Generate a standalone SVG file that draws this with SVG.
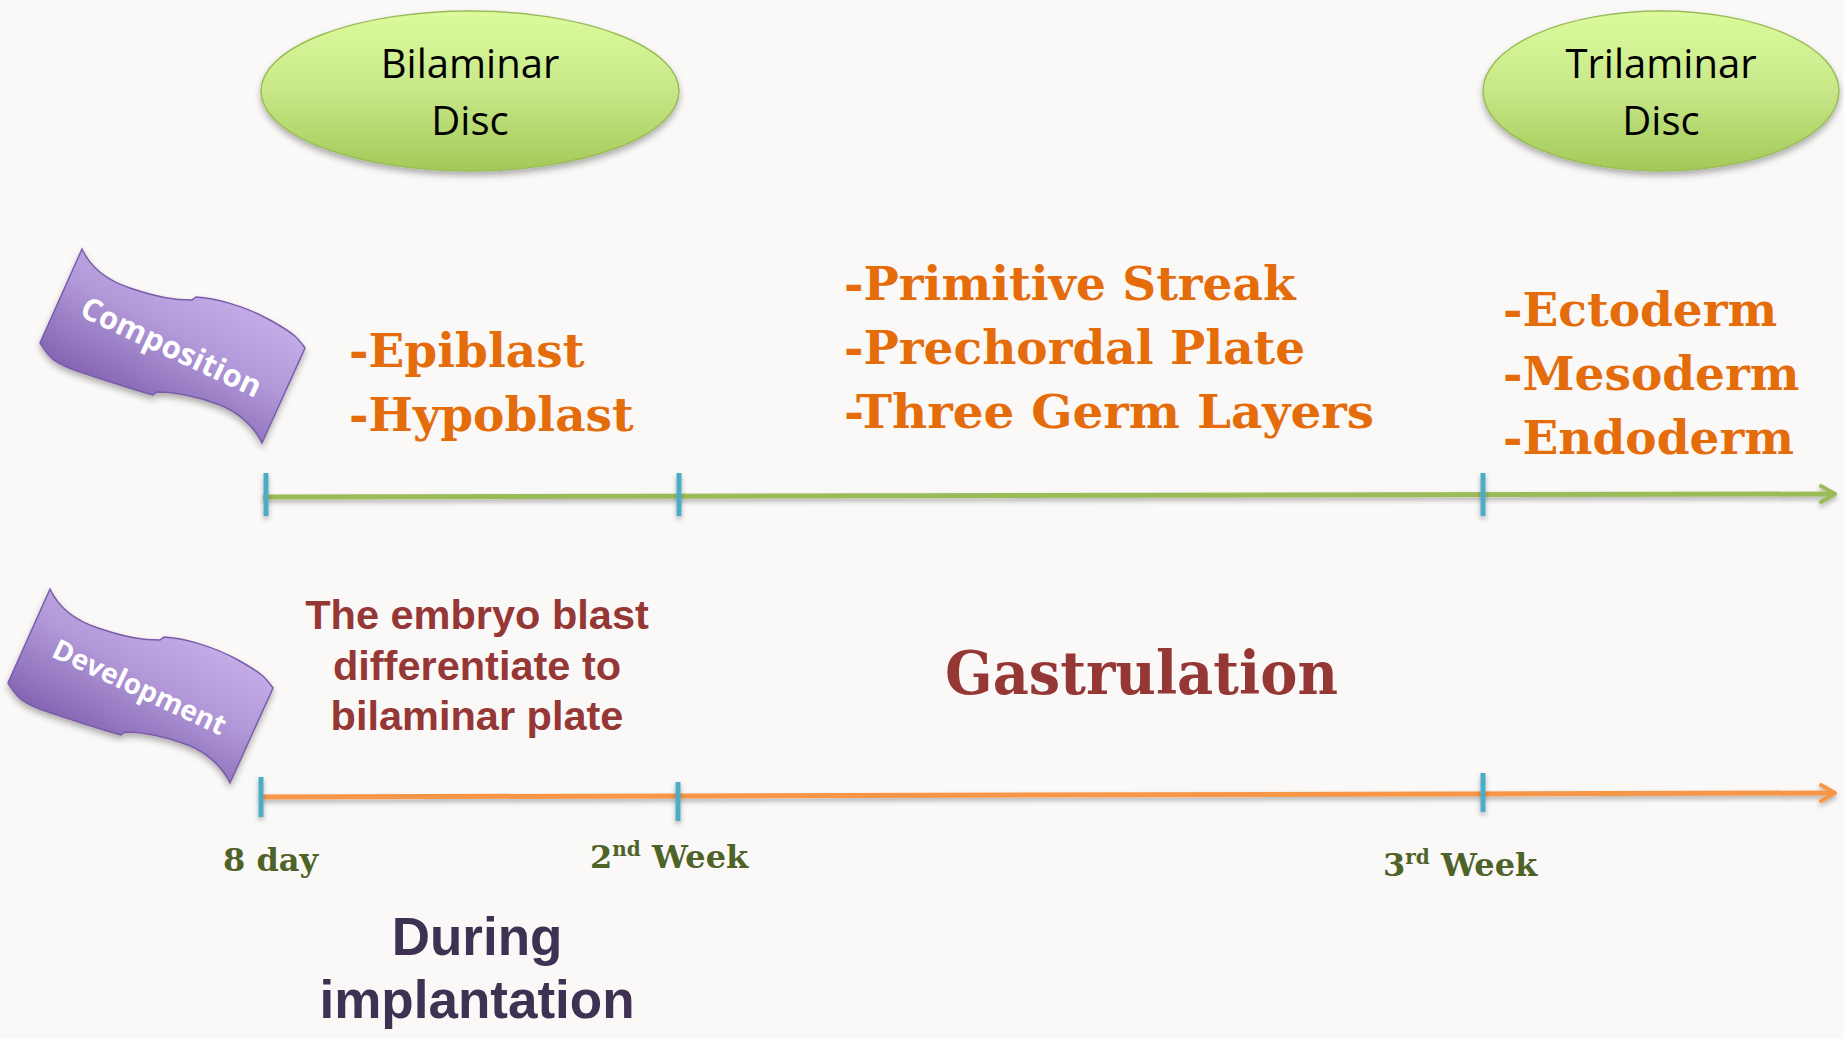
<svg xmlns="http://www.w3.org/2000/svg" width="1844" height="1039" viewBox="0 0 1844 1039">
<defs>
<style>
.disc{fill:url(#gGreen);stroke:#9bbb59;stroke-width:1.5;filter:url(#sh)}
.discT{font-family:"Open Sans","Liberation Sans",sans-serif;font-size:40px;fill:#000;text-anchor:middle}
.ban{fill:url(#gPurple);stroke:#7a5ca8;stroke-width:1.5;filter:url(#sh)}
.banT{font-family:"Open Sans","Liberation Sans",sans-serif;font-weight:bold;font-size:31px;fill:#fff;text-anchor:middle;dominant-baseline:central}
.or{font-family:"DejaVu Serif","Liberation Serif",serif;font-weight:bold;font-size:47px;fill:#e46c0a}
.red{font-family:"Liberation Sans",Arial,sans-serif;font-weight:bold;font-size:41.5px;fill:#953735;text-anchor:middle}
.gas{font-family:"DejaVu Serif","Liberation Serif",serif;font-weight:bold;font-size:59px;fill:#953735}
.wk{font-family:"DejaVu Serif","Liberation Serif",serif;font-weight:bold;font-size:32px;fill:#4f6228}
.sup{font-size:20px}
.dur{font-family:"Liberation Sans",Arial,sans-serif;font-weight:bold;font-size:53px;fill:#3f3151;text-anchor:middle}
.tick{stroke:#4bacc6;stroke-width:5;filter:url(#shL)}
.gl{stroke:#9bbb59;stroke-width:5;fill:none;filter:url(#shL)}
.ol{stroke:#f79646;stroke-width:5;fill:none;filter:url(#shL)}
</style>
<filter id="sh" x="-10%" y="-30%" width="120%" height="160%">
<feDropShadow dx="0" dy="4" stdDeviation="3" flood-color="#000" flood-opacity="0.3"/>
</filter>
<filter id="shL" filterUnits="userSpaceOnUse" x="0" y="0" width="1844" height="1039">
<feDropShadow dx="0" dy="3" stdDeviation="2.5" flood-color="#000" flood-opacity="0.3"/>
</filter>
<linearGradient id="gGreen" x1="0" y1="0" x2="0" y2="1">
<stop offset="0" stop-color="#dcfb9c"/>
<stop offset="0.5" stop-color="#c7e788"/>
<stop offset="1" stop-color="#a4c957"/>
</linearGradient>
<linearGradient id="gPurple" x1="0.75" y1="0.25" x2="0.3" y2="0.85">
<stop offset="0" stop-color="#c5ade8"/>
<stop offset="0.4" stop-color="#b198d8"/>
<stop offset="1" stop-color="#7c5bab"/>
</linearGradient>
<marker id="aG" markerUnits="userSpaceOnUse" markerWidth="24" markerHeight="24" refX="17" refY="12" orient="auto">
<path d="M3,4 L17,12 L3,20" fill="none" stroke="#9bbb59" stroke-width="4" stroke-linecap="round" stroke-linejoin="round"/>
</marker>
<marker id="aO" markerUnits="userSpaceOnUse" markerWidth="24" markerHeight="24" refX="17" refY="12" orient="auto">
<path d="M3,4 L17,12 L3,20" fill="none" stroke="#f79646" stroke-width="4" stroke-linecap="round" stroke-linejoin="round"/>
</marker>
<path id="banner" d="M82,249 C88,262 100,278 130,288 S175,300 192,300 L196,297 C215,298 245,306 270,320 S298,338 305,348 L262,443 C255,428 240,413 220,405 S175,392 157,392 L153,395 C135,390 110,382 80,372 S48,355 40,343 Z"/>
</defs>
<rect width="1844" height="1039" fill="#faf9f8"/>

<g id="connectors">
<line class="gl" x1="263" y1="497" x2="1835" y2="494" marker-end="url(#aG)"/>
<line class="ol" x1="261" y1="797" x2="1835" y2="793" marker-end="url(#aO)"/>
<line class="tick" x1="266" y1="473" x2="266" y2="516"/>
<line class="tick" x1="679" y1="473" x2="679" y2="516"/>
<line class="tick" x1="1483" y1="473" x2="1483" y2="516"/>
<line class="tick" x1="261" y1="777" x2="261" y2="817"/>
<line class="tick" x1="678" y1="782" x2="678" y2="821"/>
<line class="tick" x1="1483" y1="773" x2="1483" y2="812"/>
</g>

<g id="bilaminar">
<ellipse class="disc" cx="470" cy="91" rx="209" ry="80"/>
<text class="discT" x="470" y="78">Bilaminar</text>
<text class="discT" x="470" y="135">Disc</text>
</g>

<g id="trilaminar">
<ellipse class="disc" cx="1661" cy="91" rx="178" ry="80"/>
<text class="discT" x="1661" y="78">Trilaminar</text>
<text class="discT" x="1661" y="135">Disc</text>
</g>

<g id="composition">
<use href="#banner" class="ban"/>
<text class="banT" transform="translate(172,346) rotate(25)">Composition</text>
</g>

<g id="development">
<use href="#banner" class="ban" transform="translate(-32,340)"/>
<text class="banT" style="font-size:28px" transform="translate(140,686) rotate(25)">Development</text>
</g>

<g id="bilaminar-composition">
<text class="or" x="349" y="367">-Epiblast</text>
<text class="or" x="349" y="431">-Hypoblast</text>
</g>

<g id="gastrulation-composition">
<text class="or" x="844" y="300">-Primitive Streak</text>
<text class="or" x="844" y="364">-Prechordal Plate</text>
<text class="or" x="844" y="428" textLength="530" lengthAdjust="spacingAndGlyphs">-Three Germ Layers</text>
</g>

<g id="trilaminar-composition">
<text class="or" x="1503" y="326">-Ectoderm</text>
<text class="or" x="1503" y="390">-Mesoderm</text>
<text class="or" x="1503" y="454">-Endoderm</text>
</g>

<g id="embryoblast">
<text class="red" x="477" y="629">The embryo blast</text>
<text class="red" x="477" y="680">differentiate to</text>
<text class="red" x="477" y="730">bilaminar plate</text>
</g>

<g id="gastrulation">
<text class="gas" x="945" y="694" textLength="393" lengthAdjust="spacingAndGlyphs">Gastrulation</text>
</g>

<g id="labels">
<text class="wk" x="223" y="871">8 day</text>
<text class="wk" x="590" y="868">2<tspan class="sup" dy="-12">nd</tspan><tspan dy="12"> Week</tspan></text>
<text class="wk" x="1383" y="876">3<tspan class="sup" dy="-12">rd</tspan><tspan dy="12"> Week</tspan></text>
</g>

<g id="during">
<text class="dur" x="477" y="955">During</text>
<text class="dur" x="477" y="1018">implantation</text>
</g>
</svg>
